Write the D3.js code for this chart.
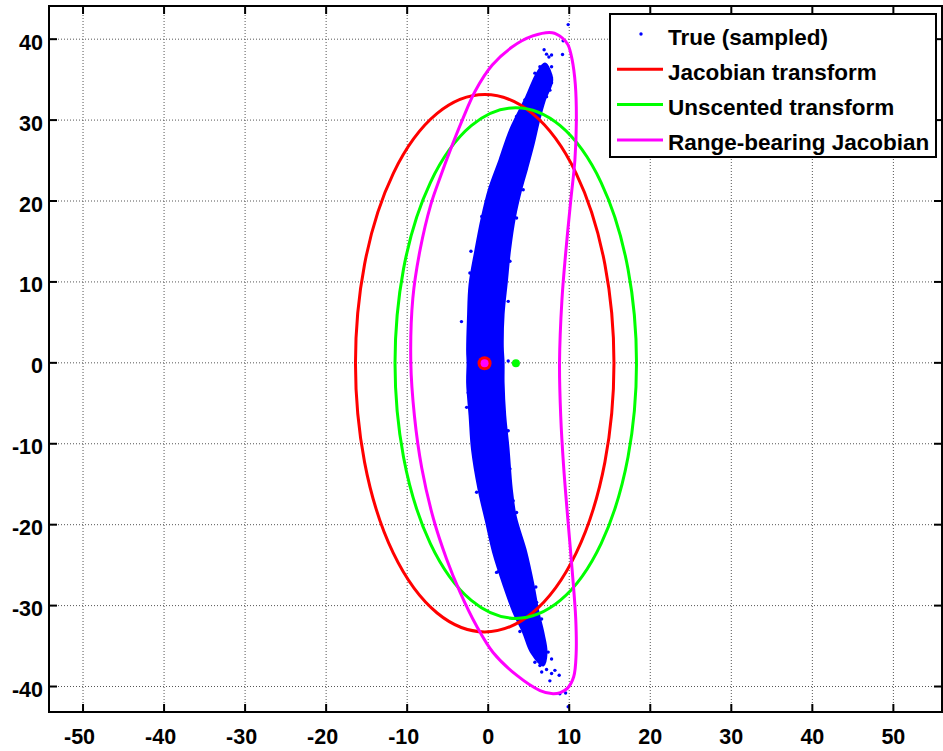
<!DOCTYPE html>
<html>
<head>
<meta charset="utf-8">
<script src="https://cdn.jsdelivr.net/npm/d3@7"></script>
<style>
  body { margin: 0; background: #fff; }
  text { font-family: "Liberation Sans", Arial, sans-serif; font-weight: bold; fill: #000; }
</style>
</head>
<body>
<script>
// tick values
var xTicks = [-50, -40, -30, -20, -10, 0, 10, 20, 30, 40, 50];
var yTicks = [-40, -30, -20, -10, 0, 10, 20, 30, 40];

// sampled cloud, outline (clockwise from top tip)
var cloudOutline = [
  [7.0, 37.0], [7.9, 35.0], [7.0, 32.5], [6.3, 30.0], [5.6, 27.0], [4.8, 24.0],
  [4.1, 21.5], [3.3, 18.0], [2.7, 14.0], [2.3, 10.0], [1.9, 6.0], [1.8, 2.0],
  [1.9, 0], [1.9, -2.5], [2.1, -6.5], [2.5, -10.5], [2.9, -15.5], [3.4, -19.0],
  [4.7, -23.4], [5.6, -27.5], [6.2, -30.8], [6.8, -33.3], [7.2, -35.8], [6.8, -37.4],
  [5.3, -35.8], [4.3, -33.3], [3.1, -30.8], [1.9, -27.5], [0.6, -23.4], [-0.3, -19.5],
  [-1.2, -15.6], [-2.0, -10.7], [-2.3, -6.5], [-2.6, -2.5], [-2.55, 0], [-2.6, 1.5],
  [-2.5, 5.5], [-2.3, 9.7], [-1.6, 13.8], [-0.8, 17.9], [0.1, 21.5], [1.4, 25.1],
  [2.7, 28.8], [4.7, 32.9], [6.0, 35.8]
];

// single samples along the ragged edges and at the tips
var cloudStray = [
  [9.87, 41.8], [9.25, 39.8], [9.17, 38.1], [6.9, 38.7], [7.2, 38.15], [7.82, 38.05],
  [7.49, 37.8], [7.82, 36.6], [7.82, 35.2], [4.32, 21.4], [2.47, 7.6], [-2.13, 13.8],
  [-3.3, 5.1], [2.47, 0.22], [2.47, -8.4], [3.5, -18.5], [1.23, -25.8], [3.91, -33.2],
  [5.76, -37.0], [7.82, -36.6], [7.61, -39.3], [8.23, -38.0], [8.76, -38.6],
  [8.84, -40.9], [9.55, -40.8], [9.87, -42.5], [5.88, -27.7], [6.6, -38.2], [7.2, -37.9],
  [-0.8, 18.1], [3.5, 17.9], [2.47, 14.0], [2.68, 12.56], [-2.26, 11.1], [-2.05, 6.4],
  [-2.66, -5.5], [-2.47, -3.7], [2.27, -8.4], [2.68, -13.1], [3.08, -17.05], [-1.43, -16.0],
  [1.03, -25.9], [1.44, -24.9], [5.55, -28.8], [5.97, -29.6], [6.59, -31.65], [5.35, -34.9],
  [7.4, -35.75], [6.38, -37.4], [6.78, -36.2], [7.82, -38.4],
  [4.53, 32.5], [4.12, 31.5], [3.5, 30.45], [5.76, 35.8], [6.38, 36.6], [6.87, 36.6],
  [7.4, 36.2], [7.82, 34.6], [7.61, 33.7], [7.2, 32.9], [5.97, 29.6], [5.55, 28.8],
  [4.93, 25.9], [4.65, 24.3], [3.29, 28.6], [1.44, 24.7], [1.03, 23.5], [0.62, 22.2]
];

// Jacobian / unscented ellipses: [cx, cy, rx, ry]
var jacobianEllipse = [-0.43, -0.05, 15.95, 33.2];
var unscentedEllipse = [3.4, -0.03, 14.9, 31.55];

// means
var jacobianMean = [-0.45, -0.05];
var unscentedMean = [3.42, -0.05];

// range-bearing Jacobian contour (clockwise from top)
var rangeBearing = [
  [7.9, 40.8], [9.1, 40.2], [9.85, 39.3], [10.35, 37.5], [10.75, 34.4], [10.88, 30.0],
  [10.7, 25.1], [10.2, 20.2], [9.6, 14.0], [9.1, 7.8], [8.8, 0],
  [8.95, -6.6], [9.3, -12.7], [9.8, -19.0], [10.35, -25.5], [10.8, -31.6], [10.85, -36.0],
  [10.55, -38.8], [9.8, -40.2], [8.9, -40.75], [8.0, -40.9],
  [6.4, -40.5], [3.5, -38.6], [0.6, -35.8], [-1.45, -32.5], [-3.45, -28.4], [-5.15, -24.2],
  [-6.75, -19.3], [-8.2, -13.0], [-9.1, -6.6], [-9.55, 0],
  [-9.3, 8.0], [-8.4, 14.0], [-7.1, 19.5], [-5.9, 23.0], [-4.6, 26.5], [-3.2, 30.0],
  [-1.6, 33.6], [0.5, 36.8], [2.9, 39.0], [5.5, 40.4]
];

var legendLabels = ['True (sampled)', 'Jacobian transform', 'Unscented transform', 'Range-bearing Jacobian'];
var legendColors = ['#0000ff', '#ff0000', '#00ff00', '#ff00ff'];

var W = 943, H = 751;
var pL = 49, pR = 942, pT = 6, pB = 712;

var x = d3.scaleLinear().domain([-54.2, 56]).range([pL, pR]);
var y = d3.scaleLinear().domain([-43.15, 44.1]).range([pB, pT]);

var svg = d3.select('body').append('svg').attr('width', W).attr('height', H);

svg.append('defs').append('clipPath').attr('id', 'plot')
  .append('rect').attr('x', pL).attr('y', pT).attr('width', pR - pL).attr('height', pB - pT);

// grid
var grid = svg.append('g').attr('class', 'grid');
grid.selectAll('line.gx').data(xTicks).enter().append('line')
  .attr('x1', function (d) { return x(d); }).attr('x2', function (d) { return x(d); })
  .attr('y1', pT).attr('y2', pB);
grid.selectAll('line.gy').data(yTicks).enter().append('line')
  .attr('y1', function (d) { return y(d); }).attr('y2', function (d) { return y(d); })
  .attr('x1', pL).attr('x2', pR);
grid.selectAll('line').style('stroke', '#555').style('stroke-width', 1).style('stroke-dasharray', '1,2');

var plot = svg.append('g').attr('clip-path', 'url(#plot)');

var line = d3.line()
  .x(function (d) { return x(d[0]); })
  .y(function (d) { return y(d[1]); })
  .curve(d3.curveCatmullRomClosed);

// sampled cloud
plot.append('path').datum(cloudOutline)
  .attr('d', line)
  .style('fill', '#0000ff').style('stroke', '#0000ff').style('stroke-width', 2)
  .style('stroke-linejoin', 'round');

plot.selectAll('circle.stray').data(cloudStray).enter().append('circle')
  .attr('cx', function (d) { return x(d[0]); })
  .attr('cy', function (d) { return y(d[1]); })
  .attr('r', 1.7)
  .style('fill', '#0000ff');

function drawEllipse(e, color) {
  plot.append('ellipse')
    .attr('cx', x(e[0])).attr('cy', y(e[1]))
    .attr('rx', x(e[0] + e[2]) - x(e[0]))
    .attr('ry', y(e[1]) - y(e[1] + e[3]))
    .style('fill', 'none').style('stroke', color).style('stroke-width', 3);
}
drawEllipse(jacobianEllipse, '#ff0000');
drawEllipse(unscentedEllipse, '#00ff00');

plot.append('path').datum(rangeBearing)
  .attr('d', line)
  .style('fill', 'none').style('stroke', '#ff00ff').style('stroke-width', 3);

// means
plot.append('circle').attr('cx', x(jacobianMean[0])).attr('cy', y(jacobianMean[1])).attr('r', 7)
  .style('fill', '#ff0000');
plot.append('circle').attr('cx', x(jacobianMean[0])).attr('cy', y(jacobianMean[1])).attr('r', 4)
  .style('fill', '#ff00ff');
plot.append('circle').attr('cx', x(unscentedMean[0])).attr('cy', y(unscentedMean[1])).attr('r', 4)
  .style('fill', '#00ff00');

// axes box + inward ticks on all sides
var axes = svg.append('g');
var tl = 8;
xTicks.forEach(function (t) {
  axes.append('line').attr('x1', x(t)).attr('x2', x(t)).attr('y1', pB).attr('y2', pB - tl);
  axes.append('line').attr('x1', x(t)).attr('x2', x(t)).attr('y1', pT).attr('y2', pT + tl);
});
yTicks.forEach(function (t) {
  axes.append('line').attr('y1', y(t)).attr('y2', y(t)).attr('x1', pL).attr('x2', pL + tl);
  axes.append('line').attr('y1', y(t)).attr('y2', y(t)).attr('x1', pR).attr('x2', pR - tl);
});
axes.append('rect').attr('x', pL).attr('y', pT).attr('width', pR - pL).attr('height', pB - pT)
  .style('fill', 'none');
axes.selectAll('line, rect').style('stroke', '#000').style('stroke-width', 2);

svg.selectAll('text.xl').data(xTicks).enter().append('text')
  .attr('x', function (d) { return x(d) + (d < 0 ? -3.5 : 0); })
  .attr('y', 744)
  .attr('text-anchor', 'middle')
  .style('font-size', '21.5px')
  .text(function (d) { return d; });

svg.selectAll('text.yl').data(yTicks).enter().append('text')
  .attr('x', 43)
  .attr('y', function (d) { return y(d) + 10.5; })
  .attr('text-anchor', 'end')
  .style('font-size', '21.5px')
  .text(function (d) { return d; });

// legend
var lg = svg.append('g');
lg.append('rect').attr('x', 610).attr('y', 14).attr('width', 326).attr('height', 143)
  .style('fill', '#fff').style('stroke', '#000').style('stroke-width', 2);
legendLabels.forEach(function (label, i) {
  var cy = 34 + i * 35.3;
  if (i === 0) {
    lg.append('circle').attr('cx', 641).attr('cy', cy).attr('r', 1.7).style('fill', legendColors[i]);
  } else {
    lg.append('line').attr('x1', 617).attr('x2', 663).attr('y1', cy).attr('y2', cy)
      .style('stroke', legendColors[i]).style('stroke-width', 3);
  }
  lg.append('text').attr('x', 668).attr('y', cy + 10.5)
    .style('font-size', '22.5px')
    .text(label);
});
</script>
</body>
</html>
